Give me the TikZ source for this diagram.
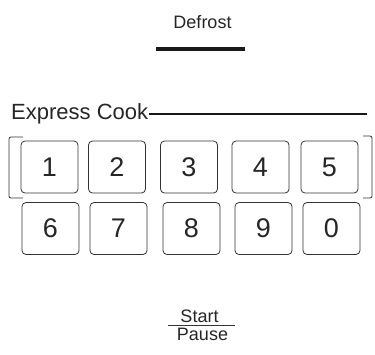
\documentclass[tikz,border=0pt]{standalone}
\usepackage{fontspec}
\setmainfont{Liberation Sans}
\usetikzlibrary{positioning}

\begin{document}
\begin{tikzpicture}[x=1pt, y=-1pt,
  key/.style={draw=black!80, rounded corners=4pt, line width=0.8pt, minimum width=57pt, minimum height=52pt, inner sep=0pt, font=\fontsize{27}{27}\selectfont, text=black!85},
  lbl/.style={inner sep=0pt, text=black!85, font=\fontsize{18}{18}\selectfont},
  brk/.style={draw=black!80, line width=0.8pt, rounded corners=2pt}]
\useasboundingbox (0,0) rectangle (375,354);
% ================= defrost =================
\node[lbl, anchor=base] (defrost) at (202.5,28) {Defrost};
\coordinate (dfl) at (156,49);
\coordinate (dfr) at (245,49);
\draw[line width=4pt, black!90] (dfl) -- (dfr);
% ================= express cook =================
\node[lbl, anchor=base west, font=\fontsize{22}{22}\selectfont] (ec) at (11,119) {Express Cook};
\coordinate (ecend) at (367,114);
\draw[line width=1.5pt, black!90] (ec.east |- ecend) ++(1,0) -- (ecend);
\draw[brk] (23,137) -- (9,137) -- (9,198) -- (23,198);
\draw[brk] (363,136) -- (372,136) -- (372,198) -- (363,198);
% ================= number keys =================
\foreach \k/\x in {1/49.5,2/117,3/189,4/260.5,5/329.5}{\node[key] (k\k) at (\x,167) {\k};}
\foreach \k/\x in {6/50.5,7/118.5,8/191.5,9/263.5,0/331.5}{\node[key] (k\k) at (\x,228.5) {\k};}
% ================= start / pause =================
\node[lbl, anchor=base] (start) at (199.5,322) {Start};
\node[lbl, anchor=base] (pause) at (202.5,340) {Pause};
\coordinate (spl) at (168,325.5);
\coordinate (spr) at (235,325.5);
\draw[line width=0.8pt, black!80] (spl) -- (spr);
\end{tikzpicture}
\end{document}
